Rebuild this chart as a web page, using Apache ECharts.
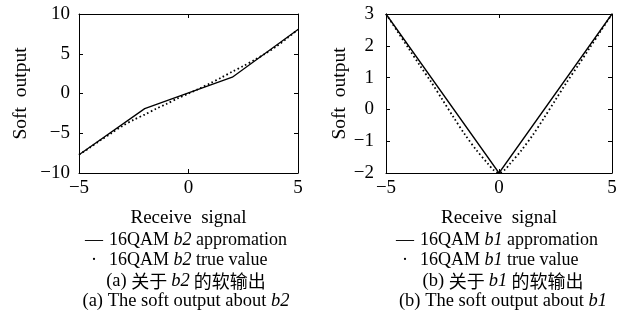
<!DOCTYPE html>
<html>
<head>
<meta charset="utf-8">
<script src="https://cdn.jsdelivr.net/npm/echarts@6/dist/echarts.min.js"></script>
<style>
  html, body { margin: 0; padding: 0; background: #fff; }
  #chart { width: 628px; height: 322px; }
</style>
</head>
<body>
<div id="chart"></div>
<script>
// ---- data ----
var xTicks = [-5, 0, 5];

// (a) b2
var approxB2X = [-5, -2, 2, 5];
var approxB2Y = [-7.7, -1.9, 2.05, 8.05];
var trueB2X = [-5, -4.5, -4, -3.5, -3, -2.5, -2, -1.5, -1, -0.5, 0, 0.5, 1, 1.5, 2, 2.5, 3, 3.5, 4, 4.5, 5];
var trueB2Y = [-7.7, -6.8, -5.85, -4.95, -4.05, -3.3, -2.65, -1.95, -1.3, -0.62, 0, 0.62, 1.3, 2.0, 2.75, 3.45, 4.2, 5.0, 5.9, 6.95, 8.05];

// (b) b1
var approxB1X = [-5, 0, 5];
var approxB1Y = [3, -2, 3];
var trueB1X = [-5, -4.5, -4, -3.5, -3, -2.5, -2, -1.5, -1, -0.5, -0.25, 0, 0.25, 0.5, 1, 1.5, 2, 2.5, 3, 3.5, 4, 4.5, 5];
var trueB1Y = [3, 2.46, 1.92, 1.38, 0.86, 0.3, -0.26, -0.8, -1.28, -1.7, -1.9, -2, -1.9, -1.7, -1.28, -0.8, -0.26, 0.3, 0.86, 1.38, 1.92, 2.46, 3];

function pairs(xs, ys) {
    var out = [];
    for (var i = 0; i < xs.length; i++) out.push([xs[i], ys[i]]);
    return out;
}

var FONT = '"Liberation Serif", "Times New Roman", "Noto Sans CJK SC", serif';
var CJK = '"Noto Sans CJK SC", "Liberation Serif", serif';

function minusFmt(v) { return String(v).replace('-', '\u2212'); }

function xAxisPair(gi) {
    return [{
        type: 'value', gridIndex: gi, min: -5, max: 5, interval: 5,
        name: 'Receive  signal', nameLocation: 'middle', nameGap: 36,
        nameTextStyle: { fontFamily: FONT, fontSize: 19, color: '#000' },
        axisLine: { onZero: false, lineStyle: { color: '#000', width: 1 } },
        axisTick: { inside: true, length: 4, lineStyle: { color: '#000' } },
        axisLabel: { fontFamily: FONT, fontSize: 19, color: '#000', margin: 6, formatter: minusFmt },
        splitLine: { show: false }
    }, {
        type: 'value', gridIndex: gi, position: 'top', min: -5, max: 5, interval: 5,
        axisLine: { onZero: false, lineStyle: { color: '#000', width: 1 } },
        axisTick: { inside: true, length: 4, lineStyle: { color: '#000' } },
        axisLabel: { show: false },
        splitLine: { show: false }
    }];
}

function yAxisPair(gi, mn, mx, step, gap, margin) {
    return [{
        type: 'value', gridIndex: gi, min: mn, max: mx, interval: step,
        name: 'Soft  output', nameLocation: 'middle', nameGap: gap,
        nameTextStyle: { fontFamily: FONT, fontSize: 19.5, color: '#000' },
        axisLine: { show: true, onZero: false, lineStyle: { color: '#000', width: 1 } },
        axisTick: { show: true, inside: true, length: 4, lineStyle: { color: '#000' } },
        axisLabel: { fontFamily: FONT, fontSize: 19, color: '#000', margin: margin, formatter: minusFmt },
        splitLine: { show: false }
    }, {
        type: 'value', gridIndex: gi, position: 'right', min: mn, max: mx, interval: step,
        axisLine: { show: true, onZero: false, lineStyle: { color: '#000', width: 1 } },
        axisTick: { show: true, inside: true, length: 4, lineStyle: { color: '#000' } },
        axisLabel: { show: false },
        splitLine: { show: false }
    }];
}

function solid(xi, yi, data) {
    return {
        type: 'line', xAxisIndex: xi, yAxisIndex: yi, data: data, showSymbol: false,
        lineStyle: { color: '#000', width: 1.3 }, animation: false, z: 3
    };
}
function dotted(xi, yi, data) {
    return {
        type: 'line', xAxisIndex: xi, yAxisIndex: yi, data: data, showSymbol: false, smooth: 0.3,
        lineStyle: { color: '#000', width: 1.8, type: [1.6, 2.6] }, animation: false, z: 2
    };
}

// legend + captions as plain text
function txt(x, y, text, align, rich) {
    return {
        type: 'text', x: x, y: y,
        style: {
            text: text, fill: '#000', font: '18px ' + FONT,
            align: align, verticalAlign: 'middle', rich: rich
        }
    };
}
var rich = {
    i: { fontFamily: FONT, fontSize: 18, fontStyle: 'italic', fill: '#000' },
    c: { fontFamily: CJK, fontSize: 18, fill: '#000' },
    n: { fontFamily: FONT, fontSize: 18, fill: '#000' },
    ci: { fontFamily: FONT, fontSize: 18.5, fontStyle: 'italic', fill: '#000' },
    cn: { fontFamily: FONT, fontSize: 18.5, fill: '#000' }
};

function panelText(cx, dx, bit, tag) {
    return [
        txt(dx, 240, '\u2014', 'left', rich),
        txt(dx + 6, 260, '\u00b7', 'left', rich),
        txt(dx + 24, 240, '{n|16QAM }{i|' + bit + '}{n| appromation}', 'left', rich),
        txt(dx + 24, 260, '{n|16QAM }{i|' + bit + '}{n| true value}', 'left', rich),
        txt(cx, 281, '{cn|(' + tag + ') }{c|关于 }{ci|' + bit + '}{c| 的软输出}', 'center', rich),
        txt(cx, 301, '{cn|(' + tag + ') The soft output about }{ci|' + bit + '}', 'center', rich)
    ];
}

var chart = echarts.init(document.getElementById('chart'));
chart.setOption({
    backgroundColor: '#fff',
    animation: false,
    grid: [
        { left: 79, top: 14, width: 219, height: 159 },
        { left: 386, top: 14, width: 226, height: 159 }
    ],
    xAxis: xAxisPair(0).concat(xAxisPair(1)),
    yAxis: yAxisPair(0, -10, 10, 5, 48, 9).concat(yAxisPair(1, -2, 3, 1, 30, 12)),
    series: [
        solid(0, 0, pairs(approxB2X, approxB2Y)),
        dotted(0, 0, pairs(trueB2X, trueB2Y)),
        solid(2, 2, pairs(approxB1X, approxB1Y)),
        dotted(2, 2, pairs(trueB1X, trueB1Y))
    ],
    graphic: panelText(186, 85, 'b2', 'a').concat(panelText(503, 396, 'b1', 'b'))
});
</script>
</body>
</html>
